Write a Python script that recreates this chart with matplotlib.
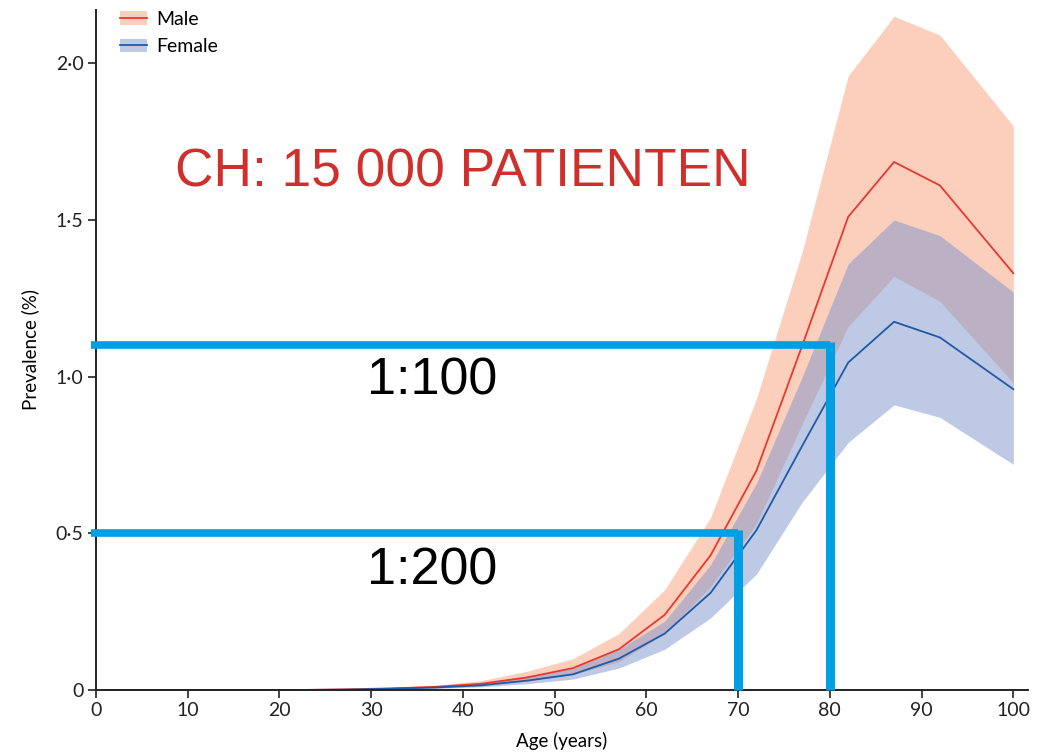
import matplotlib
matplotlib.use("Agg")
import matplotlib.pyplot as plt
from matplotlib.patches import Patch
from matplotlib.lines import Line2D

# ---- data ----
ages = [0, 7, 12, 17, 22, 27, 32, 37, 42, 47, 52, 57, 62, 67, 72, 77, 82, 87, 92, 100]
male_mean = [0, 0, 0, 0, 0, 0.002, 0.005, 0.01, 0.02, 0.04, 0.07, 0.13, 0.24, 0.43, 0.70, 1.10, 1.51, 1.685, 1.61, 1.33]
male_low = [0, 0, 0, 0, 0, 0.001, 0.003, 0.007, 0.013, 0.028, 0.05, 0.09, 0.18, 0.33, 0.53, 0.85, 1.16, 1.32, 1.24, 0.98]
male_high = [0, 0, 0, 0, 0, 0.003, 0.008, 0.015, 0.03, 0.06, 0.10, 0.18, 0.32, 0.55, 0.93, 1.40, 1.96, 2.15, 2.09, 1.80]
female_mean = [0, 0, 0, 0, 0, 0.001, 0.004, 0.008, 0.015, 0.03, 0.05, 0.10, 0.18, 0.31, 0.51, 0.78, 1.045, 1.175, 1.125, 0.96]
female_low = [0, 0, 0, 0, 0, 0.001, 0.002, 0.005, 0.01, 0.02, 0.035, 0.07, 0.13, 0.23, 0.37, 0.60, 0.79, 0.91, 0.87, 0.72]
female_high = [0, 0, 0, 0, 0, 0.002, 0.006, 0.012, 0.022, 0.045, 0.07, 0.13, 0.22, 0.40, 0.66, 1.00, 1.36, 1.50, 1.45, 1.27]

x_ticks = [0, 10, 20, 30, 40, 50, 60, 70, 80, 90, 100]
y_ticks = [0, 0.5, 1.0, 1.5, 2.0]
y_tick_labels = ["0", "0·5", "1·0", "1·5", "2·0"]

# annotation markers (age, prevalence, label)
marker_ages = [70, 80]
marker_prev = [0.5, 1.1]
marker_labels = ["1:200", "1:100"]
headline = "CH: 15 000 PATIENTEN"

# ---- style ----
male_line = "#e8392f"
male_fill = "#f9a07a"
female_line = "#1f5aa6"
female_fill = "#7f95cc"
marker_color = "#009fe3"
head_color = "#d0302c"

plt.rcParams['font.family'] = ['Lato', 'DejaVu Sans']

fig = plt.figure(figsize=(10.53, 7.54), dpi=100)
ax = fig.add_axes([96/1053, 1-690/754, (1028-96)/1053, (690-10)/754])

ax.fill_between(ages, male_low, male_high, color=male_fill, alpha=0.5, lw=0)
ax.fill_between(ages, female_low, female_high, color=female_fill, alpha=0.5, lw=0)
ax.plot(ages, male_mean, color=male_line, lw=1.3)
ax.plot(ages, female_mean, color=female_line, lw=1.3)

ax.set_xlim(0, 101.6)
ax.set_ylim(0, 2.17)
ax.set_xticks(x_ticks)
ax.set_yticks(y_ticks)
ax.set_yticklabels(y_tick_labels)
ax.tick_params(direction='out', length=6, width=1.2, labelsize=14, colors='#222222', pad=3)
for s in ['top', 'right']:
    ax.spines[s].set_visible(False)
for s in ['left', 'bottom']:
    ax.spines[s].set_linewidth(1.4)
    ax.spines[s].set_color('#222222')

ax.set_xlabel("Age (years)", fontsize=13.5, labelpad=9)
ax.set_ylabel("Prevalence (%)", fontsize=13.5, labelpad=12)

handles = [(Patch(facecolor=male_fill, alpha=0.5), Line2D([], [], color=male_line, lw=1.3)),
           (Patch(facecolor=female_fill, alpha=0.5), Line2D([], [], color=female_line, lw=1.3))]
ax.legend(handles, ["Male", "Female"], loc='upper left', bbox_to_anchor=(0.007, 1.025),
          frameon=False, fontsize=14, handlelength=1.4, handletextpad=0.45, labelspacing=0.55)

# marker lines
for a, p in zip(marker_ages, marker_prev):
    ax.plot([-0.5, a], [p, p], color=marker_color, lw=5.5, clip_on=False, solid_capstyle='butt', zorder=5)
    ax.plot([a, a], [p + 0.01, 0], color=marker_color, lw=6.5, clip_on=False, solid_capstyle='butt', zorder=5)

ax.text(29.5, 0.38, marker_labels[0], fontsize=37.5, family='Liberation Sans', color='black', va='center', ha='left')
ax.text(29.5, 0.985, marker_labels[1], fontsize=37.5, family='Liberation Sans', color='black', va='center', ha='left')
ax.text(8.6, 1.65, headline, fontsize=38.3, family='Liberation Sans', color=head_color, va='center', ha='left')

fig.savefig("out.png", dpi=100)
